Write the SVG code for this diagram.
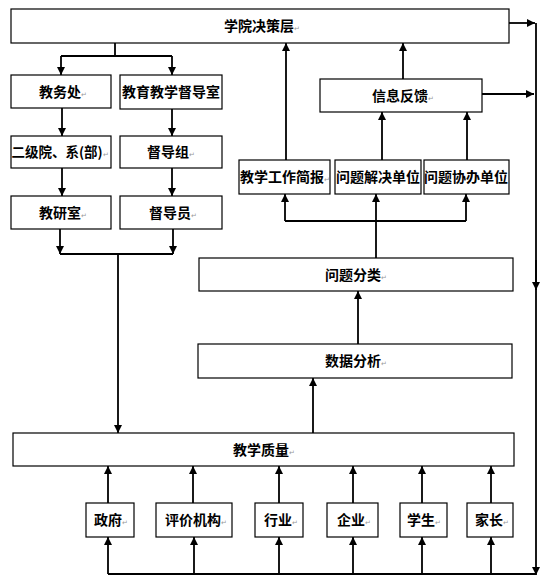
<svg xmlns="http://www.w3.org/2000/svg" width="548" height="588" viewBox="0 0 548 588">
<style>
.box{fill:#fff;stroke:#000;stroke-width:1.2}
.t{font-family:"Noto Sans CJK SC","Noto Sans CJK TC",sans-serif;font-size:14px;font-weight:bold;fill:#000;text-anchor:middle}
.pm{font-size:7px;font-weight:normal;fill:#999}
.c{fill:none;stroke:#000;stroke-width:1.8}
.a{fill:none;stroke:#000;stroke-width:1.8;marker-end:url(#ah)}
</style>
<defs>
<marker id="ah" viewBox="0 0 10 10" refX="10" refY="5" markerWidth="8" markerHeight="8" markerUnits="userSpaceOnUse" orient="auto">
<path d="M0,0 L10,5 L0,10 z" fill="#000"/>
</marker>
</defs>
<rect width="548" height="588" fill="#fff"/>

<g id="connectors">
<path class="c" d="M115,43 V56 M61,56 H172"/>
<path class="a" d="M61,56 V75"/>
<path class="a" d="M172,56 V75"/>
<path class="a" d="M62,108 V136"/>
<path class="a" d="M172,109 V136"/>
<path class="a" d="M62,168 V196"/>
<path class="a" d="M172,168 V196"/>
<path class="a" d="M60,229 V254"/>
<path class="a" d="M173,229 V254"/>
<path class="c" d="M60,254 H173"/>
<path class="a" d="M118,254 V433"/>
<path class="a" d="M313,433 V378"/>
<path class="a" d="M358,344 V291"/>
<path class="a" d="M376,258 V194"/>
<path class="c" d="M285,221 H466"/>
<path class="a" d="M285,221 V194"/>
<path class="a" d="M466,221 V194"/>
<path class="a" d="M286,160 V43"/>
<path class="a" d="M382,160 V112"/>
<path class="a" d="M467,160 V112"/>
<path class="a" d="M403,79 V43"/>
<path class="a" d="M509,23 H535"/>
<path class="a" d="M482,94 H534"/>
<path class="a" d="M536,23 V575"/>
<path class="a" d="M536,260 V290"/>
<path class="c" d="M536,574 H108"/>
<path class="a" d="M108,574 V537"/>
<path class="a" d="M194,574 V537"/>
<path class="a" d="M279,574 V537"/>
<path class="a" d="M353,574 V537"/>
<path class="a" d="M422,574 V537"/>
<path class="a" d="M491,574 V537"/>
<path class="a" d="M108,503 V466"/>
<path class="a" d="M193,503 V466"/>
<path class="a" d="M279,503 V466"/>
<path class="a" d="M353,503 V466"/>
<path class="a" d="M422,503 V466"/>
<path class="a" d="M491,503 V466"/>
</g>

<g id="n-top"><rect class="box" x="11" y="9" width="498" height="34"/><text class="t" x="262" y="31">学院决策层<tspan class="pm">↵</tspan></text></g>
<g id="n-jwc"><rect class="box" x="11" y="75" width="100" height="33"/><text class="t" x="63" y="97">教务处<tspan class="pm">↵</tspan></text></g>
<g id="n-ddS"><rect class="box" x="120" y="75" width="102" height="34"/><text class="t" x="171" y="97">教育教学督导室</text></g>
<g id="n-ejy"><rect class="box" x="11" y="136" width="100" height="32"/><text class="t" x="60" y="157" style="font-size:13.5px">二级院、系(部)<tspan class="pm">↵</tspan></text></g>
<g id="n-ddz"><rect class="box" x="120" y="136" width="102" height="32"/><text class="t" x="171" y="157">督导组<tspan class="pm">↵</tspan></text></g>
<g id="n-jys"><rect class="box" x="11" y="196" width="100" height="33"/><text class="t" x="63" y="218">教研室<tspan class="pm">↵</tspan></text></g>
<g id="n-ddy"><rect class="box" x="120" y="196" width="102" height="33"/><text class="t" x="173" y="218">督导员<tspan class="pm">↵</tspan></text></g>
<g id="n-xxfk"><rect class="box" x="320" y="79" width="162" height="33"/><text class="t" x="403" y="101">信息反馈<tspan class="pm">↵</tspan></text></g>
<g id="n-jb"><rect class="box" x="239" y="160" width="91" height="34"/><text class="t" x="285" y="182">教学工作简报<tspan class="pm">↵</tspan></text></g>
<g id="n-jj"><rect class="box" x="335" y="160" width="86" height="34"/><text class="t" x="378" y="182">问题解决单位</text></g>
<g id="n-xb"><rect class="box" x="424" y="160" width="85" height="34"/><text class="t" x="466" y="182">问题协办单位</text></g>
<g id="n-fl"><rect class="box" x="199" y="258" width="314" height="33"/><text class="t" x="356" y="280">问题分类<tspan class="pm">↵</tspan></text></g>
<g id="n-fx"><rect class="box" x="198" y="344" width="314" height="34"/><text class="t" x="356" y="366">数据分析<tspan class="pm">↵</tspan></text></g>
<g id="n-zl"><rect class="box" x="13" y="433" width="501" height="33"/><text class="t" x="264" y="455">教学质量<tspan class="pm">↵</tspan></text></g>
<g id="n-zf"><rect class="box" x="86" y="503" width="48" height="34"/><text class="t" x="111" y="525">政府<tspan class="pm">↵</tspan></text></g>
<g id="n-pj"><rect class="box" x="156" y="503" width="76" height="34"/><text class="t" x="196" y="525">评价机构<tspan class="pm">↵</tspan></text></g>
<g id="n-hy"><rect class="box" x="255" y="503" width="48" height="34"/><text class="t" x="281" y="525">行业<tspan class="pm">↵</tspan></text></g>
<g id="n-qy"><rect class="box" x="327" y="503" width="51" height="34"/><text class="t" x="354" y="525">企业<tspan class="pm">↵</tspan></text></g>
<g id="n-xs"><rect class="box" x="400" y="503" width="47" height="34"/><text class="t" x="424" y="525">学生<tspan class="pm">↵</tspan></text></g>
<g id="n-jz"><rect class="box" x="467" y="503" width="46" height="34"/><text class="t" x="492" y="525">家长<tspan class="pm">↵</tspan></text></g>
</svg>
